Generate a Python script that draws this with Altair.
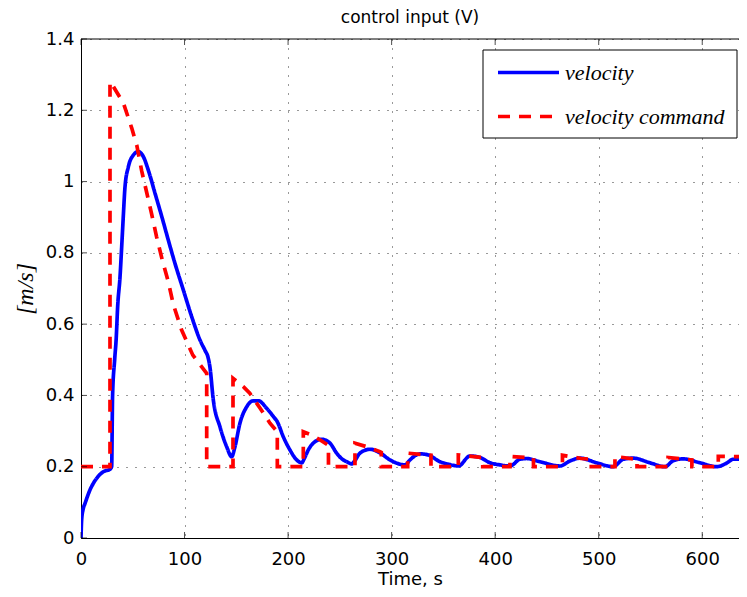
import altair as alt
import pandas as pd

# ---- data ----
vel_t = [0, 0.6, 2, 3.9, 8.7, 15, 21.6, 28, 29.6, 30.5, 32.5, 34, 35.4, 37.7, 39.3,
         40.9, 42.5, 45.7, 50.5, 55.4, 60.2, 65, 71.5, 77.9, 84.3, 90.8, 98.8,
         106.9, 115, 120, 122.5, 124.5, 127.8, 134.2, 140.7, 145.5, 148.7, 153.5,
         160, 166.4, 171.2, 179.3, 186, 189.6, 195.4, 201.8, 208.3, 213.1, 216,
         219.5, 225.9, 232.4, 240.5, 246.9, 252, 256.6, 261.4, 264, 269.4, 279.1,
         288.7, 298.4, 305, 312.9, 318, 327.4, 335.4, 346.7, 355, 364.4, 375.7,
         385.3, 395, 405, 414.3, 424, 430.4, 443.3, 462.6, 472.2, 481.9, 498, 514,
         523.7, 533.4, 549.5, 564, 572, 581.6, 597.8, 613.9, 623.5, 630, 643]
vel_v = [0, 0.05, 0.08, 0.097, 0.135, 0.167, 0.186, 0.193, 0.2, 0.4, 0.5, 0.56, 0.649,
         0.733, 0.817, 0.905, 0.985, 1.041, 1.074, 1.084, 1.07, 1.032, 0.967, 0.903,
         0.836, 0.77, 0.696, 0.621, 0.555, 0.525, 0.509, 0.48, 0.387, 0.312, 0.256,
         0.228, 0.256, 0.322, 0.368, 0.385, 0.385, 0.364, 0.34, 0.326, 0.284, 0.247,
         0.219, 0.211, 0.225, 0.247, 0.27, 0.277, 0.266, 0.238, 0.222, 0.214, 0.208,
         0.215, 0.238, 0.249, 0.239, 0.219, 0.21, 0.205, 0.22, 0.236, 0.233, 0.214,
         0.207, 0.202, 0.23, 0.226, 0.211, 0.205, 0.202, 0.221, 0.223, 0.214, 0.202,
         0.216, 0.224, 0.211, 0.2, 0.221, 0.224, 0.211, 0.2, 0.217, 0.222, 0.211,
         0.2, 0.21, 0.221, 0.221]

cmd_t = [0, 28, 28, 29.5, 41, 49, 54, 58.6, 63.4, 68.3, 73, 78.5, 84.3, 89.2, 97, 108,
         114, 121.4, 121.4, 146.8, 146.8, 157, 163, 173, 182.5, 189.6, 189.6, 214.7,
         214.7, 222, 231, 239, 239, 264.6, 264.6, 276, 288.7, 290, 290, 315.5, 315.5,
         334, 338, 338, 364.4, 364.4, 386, 388, 388, 414.3, 414.3, 433, 437, 437, 465,
         465, 483, 488, 488, 515.7, 515.7, 533, 537, 537, 567, 567, 586, 590, 590,
         615.5, 615.5, 643]
cmd_v = [0.2, 0.2, 1.28, 1.275, 1.22, 1.15, 1.10, 1.03, 0.97, 0.908, 0.845, 0.78, 0.719,
         0.655, 0.585, 0.513, 0.49, 0.462, 0.2, 0.2, 0.448, 0.424, 0.406, 0.364, 0.322,
         0.298, 0.2, 0.2, 0.298, 0.29, 0.275, 0.26, 0.2, 0.2, 0.266, 0.256, 0.242, 0.24,
         0.2, 0.2, 0.238, 0.233, 0.232, 0.2, 0.2, 0.233, 0.226, 0.226, 0.2, 0.2, 0.229,
         0.225, 0.224, 0.2, 0.2, 0.232, 0.223, 0.222, 0.2, 0.2, 0.229, 0.222, 0.221, 0.2,
         0.2, 0.226, 0.22, 0.219, 0.2, 0.2, 0.229, 0.228]

series_names = ["velocity", "velocity command"]
x_ticks = [0, 100, 200, 300, 400, 500, 600]
y_ticks = [0, 0.2, 0.4, 0.6, 0.8, 1.0, 1.2, 1.4]

df = pd.concat([
    pd.DataFrame({"t": vel_t, "v": vel_v, "series": series_names[0], "i": range(len(vel_t))}),
    pd.DataFrame({"t": cmd_t, "v": cmd_v, "series": series_names[1], "i": range(len(cmd_t))}),
], ignore_index=True)

W, H = 658, 499
XDOM = [0, 635.5]
YDOM = [0, 1.4]

xscale = alt.Scale(domain=XDOM, nice=False, zero=False)
yscale = alt.Scale(domain=YDOM, nice=False)

legend = alt.Legend(
    title=None, orient="none", legendX=402, legendY=1, direction="vertical",
    padding=0, symbolOffset=13,
    symbolType="stroke", symbolSize=3721, symbolStrokeWidth=3.7,
    labelFont="Liberation Serif", labelFontStyle="italic", labelFontSize=22,
    labelColor="black", labelOffset=4, rowPadding=-1, labelLimit=300,
)

color = alt.Color("series:N", scale=alt.Scale(domain=series_names, range=["#0000ff", "#ff0000"]),
                  legend=legend)
dash = alt.StrokeDash("series:N", scale=alt.Scale(domain=series_names, range=[[1, 0], [12, 9]]),
                      legend=legend)

xaxis = alt.Axis(values=x_ticks, title="Time, s", grid=True, ticks=False, labelPadding=12,
                 titlePadding=2, labelFlush=False)
yaxis = alt.Axis(values=y_ticks, format=".1~f", title="[m/s]", grid=True, ticks=False,
                 labelPadding=7, titlePadding=8, titleFont="Liberation Serif",
                 titleFontStyle="italic", titleFontSize=24, labelFlush=False)

base = alt.Chart(df)

# legend box and top frame line (decorations)
legend_box = alt.Chart(pd.DataFrame({"k": [0]})).mark_rect(
    fill="white", stroke="black", strokeWidth=1).encode(
    x=alt.value(402), x2=alt.value(656), y=alt.value(11), y2=alt.value(99))
top_frame = alt.Chart(pd.DataFrame({"k": [0]})).mark_rule(
    color="black", strokeWidth=1).encode(
    x=alt.value(0), x2=alt.value(W), y=alt.value(0))

vel_line = base.transform_filter(alt.datum.series == series_names[0]).mark_line(
    strokeWidth=3.7, clip=True, interpolate="monotone").encode(
    x=alt.X("t:Q", scale=xscale, axis=xaxis),
    y=alt.Y("v:Q", scale=yscale, axis=yaxis),
    color=color, strokeDash=dash, order="i:Q")

cmd_line = base.transform_filter(alt.datum.series == series_names[1]).mark_line(
    strokeWidth=3.7, clip=True).encode(
    x=alt.X("t:Q", scale=xscale),
    y=alt.Y("v:Q", scale=yscale),
    color=color, strokeDash=dash, order="i:Q")

xt = pd.DataFrame({"t": x_ticks})
yt = pd.DataFrame({"v": y_ticks})
tick_bottom = alt.Chart(xt).mark_tick(color="black", size=6, thickness=1).encode(
    x=alt.X("t:Q", scale=xscale), y=alt.value(H - 3))
tick_top = alt.Chart(xt).mark_tick(color="black", size=6, thickness=1).encode(
    x=alt.X("t:Q", scale=xscale), y=alt.value(3))
tick_left = alt.Chart(yt).mark_tick(color="black", size=6, thickness=1, orient="horizontal").encode(
    y=alt.Y("v:Q", scale=yscale), x=alt.value(3))

chart = alt.layer(legend_box, vel_line, cmd_line, tick_bottom, tick_top, tick_left,
                  top_frame).properties(
    width=W, height=H,
    title=alt.Title("control input (V)", font="DejaVu Sans", fontSize=17, fontWeight="normal",
                    color="black", anchor="middle", offset=3),
    autosize=alt.AutoSizeParams(type="none"),
    padding={"left": 73, "top": 31, "right": 0, "bottom": 50},
).configure_view(stroke=None).configure_axis(
    labelFont="DejaVu Sans", labelFontSize=18, labelColor="black",
    titleFont="DejaVu Sans", titleFontSize=18, titleFontWeight="normal", titleColor="black",
    domainColor="black", domainWidth=1,
    gridColor="black", gridDash=[1, 8], gridWidth=1, gridOpacity=0.8,
)

chart.save("out.html", embed_options={"renderer": "svg", "actions": False})
